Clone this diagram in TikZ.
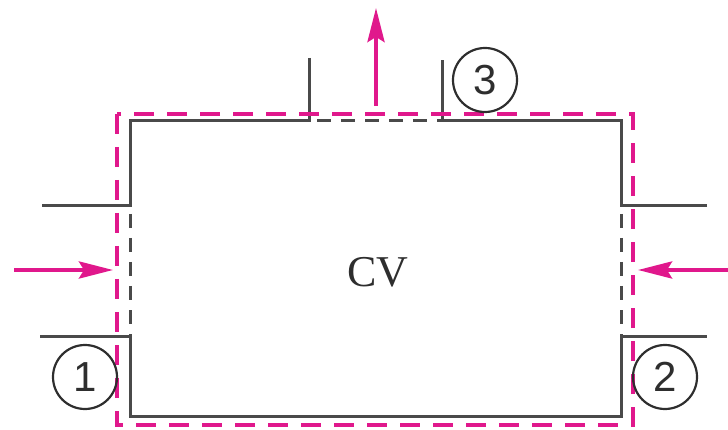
\documentclass[tikz,border=0pt]{standalone}
\usepackage{fontspec}
\setmainfont{Liberation Serif}
\newfontfamily\numfont{Liberation Sans}
\usepackage{tikz}
\usetikzlibrary{arrows.meta,positioning,calc}
\definecolor{wallgray}{HTML}{4A4A4A}
\definecolor{cvpink}{HTML}{E0188C}
\definecolor{ink}{HTML}{2E2E2E}

\begin{document}
\begin{tikzpicture}[x=1pt,y=-1pt]
    \tikzset{
      wall/.style={draw=wallgray,line width=3pt,line join=miter},
      opening/.style={draw=wallgray,line width=3pt,dash pattern=on 14pt off 10pt},
      cvbound/.style={draw=cvpink,line width=4.2pt,dash pattern=on 20pt off 13pt},
      flow/.style={-{Stealth[length=34pt,width=17pt,inset=5pt]},draw=cvpink,line width=4pt},
      station/.style={circle,draw=ink,line width=2.2pt,minimum size=64pt,inner sep=0pt,font=\numfont\fontsize{42}{42}\selectfont,text=ink}
    }
    \useasboundingbox (0,0) rectangle (728,430);
    % duct walls
    \draw[wall] (309,58) -- (309,121) -- (130,121) -- (130,206) -- (42,206);
    \draw[wall] (40,336) -- (130,336) -- (130,416) -- (621,416) -- (621,336) -- (707,336);
    \draw[wall] (707,206) -- (621,206) -- (621,121) -- (442,121) -- (442,60);
    % inlet and outlet faces
    \draw[opening] (130,214) -- (130,336);
    \draw[opening] (621,214) -- (621,336);
    \draw[opening] (317,121) -- (442,121);
    % control volume
    \draw[cvbound] (117,114) rectangle (633,425);
    \node[font=\fontsize{44}{44}\selectfont,text=ink] (cv) at (378,272) {CV};
    % stations
    \node[station] (st1) at (85,377) {1};
    \node[station] (st2) at (665,377) {2};
    \node[station] (st3) at (485,80) {3};
    % flows
    \coordinate (in1) at (14,270);
    \coordinate (in1end) at (113,270);
    \coordinate (in2) at (728,270);
    \coordinate (in2end) at (638,270);
    \coordinate (out3) at (376,106);
    \coordinate (out3end) at (376,8);
    \draw[flow] (in1) -- (in1end);
    \draw[flow] (in2) -- (in2end);
    \draw[flow] (out3) -- (out3end);
  \end{tikzpicture}
\end{document}
